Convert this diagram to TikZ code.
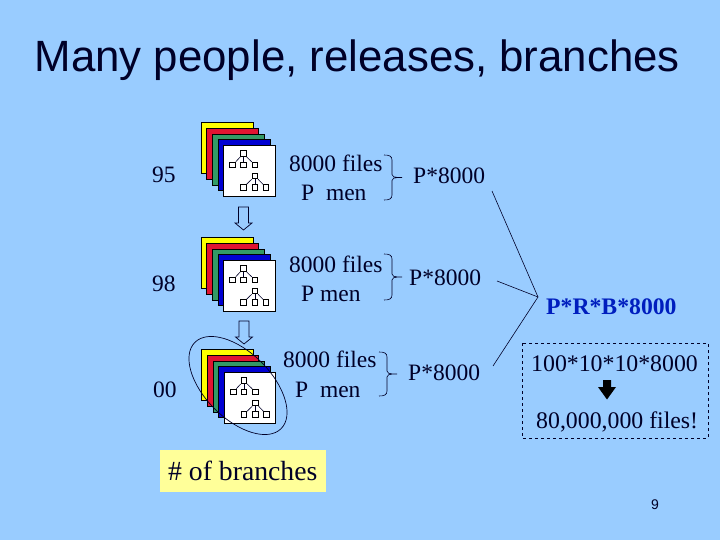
\documentclass[tikz,border=0pt]{standalone}
\usepackage{fontspec}
\usetikzlibrary{shapes.geometric}
\setmainfont{Liberation Serif}
\newfontfamily\arialf{Liberation Sans}
\definecolor{bg}{RGB}{153,204,255}
\definecolor{ink}{RGB}{0,0,40}
\definecolor{stackgreen}{RGB}{51,153,102}
\definecolor{stackred}{RGB}{225,20,50}
\definecolor{stackblue}{RGB}{0,0,210}
\definecolor{stackyellow}{RGB}{255,255,0}
\definecolor{noteyellow}{RGB}{255,255,153}
\definecolor{boldblue}{RGB}{0,30,190}
\tikzset{
  txt/.style={font=\fontsize{23.5}{28}\selectfont,text=ink,inner sep=0pt,anchor=base west},
  sheet/.style={draw=black,line width=0.8pt},
  tbox/.style={draw=black,fill=white,line width=1pt,minimum size=5.6pt,inner sep=0pt,shape=rectangle},
  link/.style={draw=ink,line width=0.6pt},
  hollow/.style={draw=ink,line width=0.7pt,fill=bg},
}
\newcommand{\stackat}[3]{% x, y, prefix
  \begin{scope}[shift={(#1,#2)}]
    \draw[sheet,fill=stackyellow] (0,0) rectangle (52,51);
    \draw[sheet,fill=stackred] (5.5,6) rectangle (57,57);
    \draw[sheet,fill=stackgreen] (11.5,12) rectangle (63,63);
    \draw[sheet,fill=stackblue] (17,17.5) rectangle (69,68.5);
    \draw[sheet,fill=white] (22.5,23) rectangle (74,74);
    \node[tbox] (#3a) at (42.3,31.7) {};
    \node[tbox] (#3b) at (31.7,43) {};
    \node[tbox] (#3c) at (42.3,43) {};
    \node[tbox] (#3d) at (54,43) {};
    \draw[link] (#3a) -- (#3b); \draw[link] (#3a) -- (#3c); \draw[link] (#3a) -- (#3d);
    \node[tbox] (#3e) at (54,54) {};
    \node[tbox] (#3f) at (42.3,65.5) {};
    \node[tbox] (#3g) at (54,65.5) {};
    \node[tbox] (#3h) at (65,65.5) {};
    \draw[link] (#3e) -- (#3f); \draw[link] (#3e) -- (#3g); \draw[link] (#3e) -- (#3h);
  \end{scope}}
\newcommand{\brc}[4]{% x, ytop, ybot, tipx
  \draw[link] (#1,#2) .. controls (#1+5,#2) and (#1+8,#2+1) .. (#1+8,#2+5)
     -- (#1+8,{(#2+#3)/2-3}) .. controls (#1+8,{(#2+#3)/2-1}) and (#1+9,{(#2+#3)/2}) .. (#4,{(#2+#3)/2})
     .. controls (#1+9,{(#2+#3)/2}) and (#1+8,{(#2+#3)/2+1}) .. (#1+8,{(#2+#3)/2+3})
     -- (#1+8,#3-5) .. controls (#1+8,#3-1) and (#1+5,#3) .. (#1,#3);}
\newcommand{\hollowdown}[2]{% x centre, y top
  \draw[hollow] (#1-5,#2) -- (#1+5,#2) -- (#1+5,#2+16) -- (#1+8.5,#2+16) -- (#1,#2+23) -- (#1-8.5,#2+16) -- (#1-5,#2+16) -- cycle;}
\begin{document}
\begin{tikzpicture}[x=1pt,y=-1pt]
\useasboundingbox (0,0) rectangle (720,540);
\fill[bg] (0,0) rectangle (720,540);
\node[font=\arialf\fontsize{43.8}{50}\selectfont,text=ink,inner sep=0pt,anchor=base west] (title) at (34.5,72) {Many people, releases, branches};

\node[txt] (y95) at (152,183) {95};
\node[txt] (y98) at (152,291) {98};
\node[txt] (y00) at (153,397) {00};

\stackat{201}{122}{s}
\stackat{201}{237}{t}
\stackat{201.5}{349}{u}

\hollowdown{243.5}{207}
\hollowdown{244}{321}

\node[draw=ink,line width=0.7pt,shape=ellipse,minimum width=122pt,minimum height=66pt,inner sep=0pt,rotate=-45] (branchring) at (238,385.5) {};

\node[txt] (f1) at (289,172) {8000 files};
\node[txt] (m1) at (301,201) {P\hspace{0.5em}men};
\node[txt] (f2) at (289,272) {8000 files};
\node[txt] (m2) at (301,301) {P men};
\node[txt] (f3) at (283,367) {8000 files};
\node[txt] (m3) at (295,397) {P\hspace{0.5em}men};

\brc{384}{155}{200}{402}
\brc{384}{254}{300}{402}
\brc{379}{352}{396}{397}

\node[txt] (p1) at (413,184) {P*8000};
\node[txt] (p2) at (409,285) {P*8000};
\node[txt] (p3) at (408,380) {P*8000};

\coordinate (tip) at (538,297);
\coordinate (l1) at (492,191);
\coordinate (l2) at (497,281);
\coordinate (l3) at (493,366);
\draw[link] (l1) -- (tip);
\draw[link] (l2) -- (tip);
\draw[link] (l3) -- (tip);

\node[txt,font=\bfseries\fontsize{23.7}{28}\selectfont,text=boldblue] (total) at (546,314) {P*R*B*8000};

\draw[draw=ink,line width=0.7pt,dashed] (522,343) rectangle (708,438);
\node[txt,font=\fontsize{23.8}{28}\selectfont] (calc) at (531,371) {100*10*10*8000};
\fill[black] (603,380) -- (611,380) -- (611,387) -- (616,387) -- (607,399.5) -- (598,387) -- (603,387) -- cycle;
\node[txt,font=\fontsize{23.8}{28}\selectfont] (res) at (536,428) {80,000,000 files!};

\node[fill=noteyellow,minimum width=166pt,minimum height=42pt,inner sep=0pt] (note) at (243,471) {};
\node[txt,font=\fontsize{27.7}{32}\selectfont] (notetxt) at (168,480) {\# of branches};

\node[font=\arialf\fontsize{14}{16}\selectfont,text=ink,inner sep=0pt,anchor=base west] (page) at (651,509) {9};
\end{tikzpicture}
\end{document}
